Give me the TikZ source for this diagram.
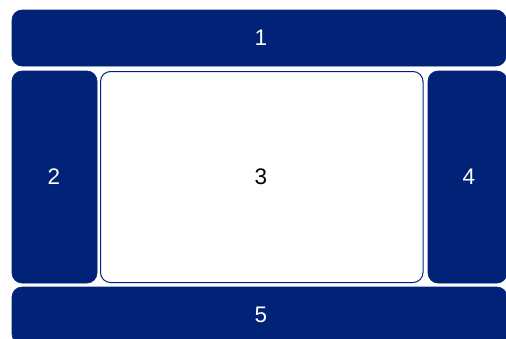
\documentclass[tikz,border=0pt]{standalone}
\usepackage{fontspec}
\setmainfont{Liberation Sans}
\definecolor{navy}{RGB}{0,34,119}
\begin{document}
\begin{tikzpicture}[x=1pt,y=-1pt,
  panel/.style={fill=navy,draw=navy,rounded corners=10pt,line width=0.6pt},
  mainpanel/.style={fill=white,draw=navy,rounded corners=10pt,line width=1pt},
  lbl/.style={font=\fontsize{22.5}{24}\selectfont}]
\useasboundingbox (0,0) rectangle (506,338);
\clip (0,0) rectangle (506,338);
\fill[white] (0,0) rectangle (506,338);
\draw[panel] (12,10) rectangle (506,66);
\draw[panel] (12,71) rectangle (97,283);
\draw[mainpanel] (100.5,71.5) rectangle (423,282.5);
\draw[panel] (428,71) rectangle (507,283);
\draw[panel] (12,287) rectangle (507,344);
\node[lbl,text=white] (n1) at (261,38) {1};
\node[lbl,text=white] (n2) at (54,177) {2};
\node[lbl,text=black] (n3) at (261,177) {3};
\node[lbl,text=white] (n4) at (469,177) {4};
\node[lbl,text=white] (n5) at (261,315) {5};
\end{tikzpicture}
\end{document}
